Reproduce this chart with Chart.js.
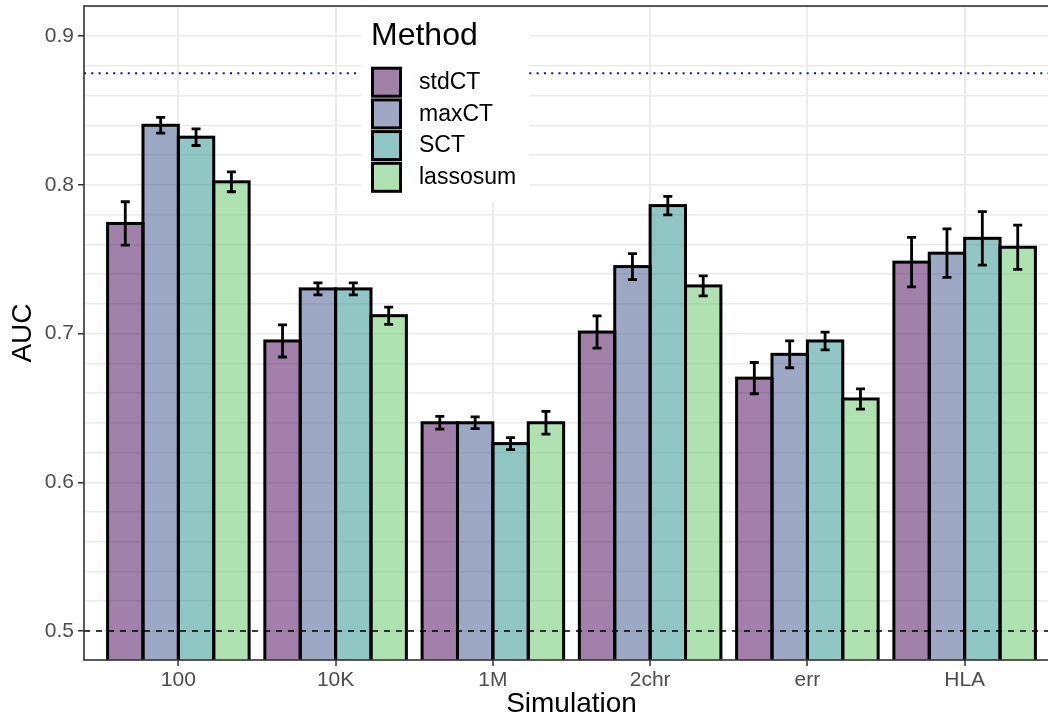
<!DOCTYPE html>
<html>
<head>
<meta charset="utf-8">
<title>AUC by simulation</title>
<script src="https://cdn.jsdelivr.net/npm/chart.js@4.4.1/dist/chart.umd.min.js"></script>
<style>
  html, body { margin: 0; padding: 0; background: #fff; overflow: hidden; }
  canvas { display: block; }
</style>
</head>
<body>
<canvas id="aucChart" width="1060" height="721"></canvas>
<script>
const simulations = ['100', '10K', '1M', '2chr', 'err', 'HLA'];
const methods = ['stdCT', 'maxCT', 'SCT', 'lassosum'];

// mean AUC per simulation
const stdCT    = [0.774, 0.695, 0.640, 0.701, 0.670, 0.748];
const maxCT    = [0.840, 0.730, 0.640, 0.745, 0.686, 0.754];
const SCT      = [0.832, 0.730, 0.626, 0.786, 0.695, 0.764];
const lassosum = [0.802, 0.712, 0.640, 0.732, 0.656, 0.758];

// half-width of the error bars
const stdCTErr    = [0.0146, 0.0108, 0.0043, 0.0108, 0.0105, 0.0166];
const maxCTErr    = [0.0053, 0.0040, 0.0040, 0.0087, 0.0090, 0.0163];
const SCTErr      = [0.0056, 0.0040, 0.0040, 0.0062, 0.0060, 0.0180];
const lassosumErr = [0.0067, 0.0058, 0.0077, 0.0067, 0.0068, 0.0149];

const yLabelTicks = [0.5, 0.6, 0.7, 0.8, 0.9];
const yGridTicks = [0.5, 0.52, 0.54, 0.56, 0.58, 0.6, 0.62, 0.64, 0.66, 0.68, 0.7,
  0.72, 0.74, 0.76, 0.78, 0.8, 0.82, 0.84, 0.86, 0.88, 0.9, 0.92];
const refAUC = 0.875;
const chanceAUC = 0.5;

const fills = ['rgba(68,1,84,0.5)', 'rgba(59,82,139,0.5)', 'rgba(33,144,140,0.5)', 'rgba(93,200,99,0.5)'];
const FONT = '"Liberation Sans", Arial, sans-serif';

const series = [stdCT, maxCT, SCT, lassosum];
const errs = [stdCTErr, maxCTErr, SCTErr, lassosumErr];
const dodge = 0.225; // bar width in category units (0.9 / 4)

const datasets = methods.map((m, k) => ({
  label: m,
  data: series[k].map((v, i) => ({ x: i + 1 + (k - 1.5) * dodge, y: v })),
  errors: errs[k],
  backgroundColor: fills[k],
  borderWidth: 0,
  inflateAmount: 0,
  grouped: false,
  categoryPercentage: 1,
  barPercentage: 1,
  clip: 0
}));

const errorBars = {
  id: 'errorBars',
  afterDatasetsDraw(chart) {
    const { ctx, chartArea, scales: { y } } = chart;
    const area = () => {
      ctx.beginPath();
      ctx.rect(chartArea.left, chartArea.top, chartArea.right - chartArea.left, chartArea.bottom - chartArea.top);
    };
    ctx.save();
    area();
    ctx.clip();

    // bar outlines, centred on the bar edges
    ctx.strokeStyle = '#000';
    ctx.lineWidth = 3;
    chart.data.datasets.forEach((ds, di) => {
      chart.getDatasetMeta(di).data.forEach(bar => {
        const p = bar.getProps(['x', 'y', 'base', 'width']);
        ctx.strokeRect(p.x - p.width / 2, p.y, p.width, p.base - p.y);
      });
    });

    ctx.lineWidth = 2.8;
    chart.data.datasets.forEach((ds, di) => {
      chart.getDatasetMeta(di).data.forEach((bar, i) => {
        const v = ds.data[i].y, e = ds.errors[i];
        const top = y.getPixelForValue(v + e), bot = y.getPixelForValue(v - e);
        const x = bar.x, w = 4.5;
        ctx.beginPath();
        ctx.moveTo(x, top); ctx.lineTo(x, bot);
        ctx.moveTo(x - w, top); ctx.lineTo(x + w, top);
        ctx.moveTo(x - w, bot); ctx.lineTo(x + w, bot);
        ctx.stroke();
      });
    });

    // reference lines
    let py = y.getPixelForValue(refAUC);
    ctx.strokeStyle = '#0000ff';
    ctx.lineWidth = 2;
    ctx.setLineDash([2, 5.3]);
    ctx.beginPath(); ctx.moveTo(chartArea.left, py); ctx.lineTo(chartArea.right, py); ctx.stroke();
    py = y.getPixelForValue(chanceAUC);
    ctx.strokeStyle = '#000';
    ctx.lineWidth = 1.5;
    ctx.setLineDash([6, 6]);
    ctx.beginPath(); ctx.moveTo(chartArea.left, py); ctx.lineTo(chartArea.right, py); ctx.stroke();
    ctx.restore();

    // panel border
    ctx.save();
    ctx.strokeStyle = '#333';
    ctx.lineWidth = 1.6;
    ctx.strokeRect(chartArea.left, chartArea.top, chartArea.right - chartArea.left, chartArea.bottom - chartArea.top);
    ctx.restore();
  }
};

const legendBox = {
  id: 'legendBox',
  afterDraw(chart) {
    const { ctx } = chart;
    ctx.save();
    ctx.fillStyle = '#fff';
    ctx.fillRect(361, 7.5, 168, 195);
    ctx.fillStyle = '#000';
    ctx.font = '32px ' + FONT;
    ctx.textBaseline = 'alphabetic';
    ctx.fillText('Method', 371, 45);
    ctx.font = '23px ' + FONT;
    ctx.textBaseline = 'middle';
    methods.forEach((m, k) => {
      const ky = 66.7 + k * 31.7;
      ctx.fillStyle = fills[k];
      ctx.fillRect(372.5, ky + 1.5, 28, 28);
      ctx.strokeStyle = '#000';
      ctx.lineWidth = 3;
      ctx.strokeRect(372.5, ky + 1.5, 28, 28);
      ctx.fillStyle = '#000';
      ctx.fillText(m, 419, ky + 16);
    });
    ctx.restore();
  }
};

new Chart(document.getElementById('aucChart'), {
  type: 'bar',
  data: { datasets },
  options: {
    responsive: false,
    animation: false,
    layout: { padding: { top: 6, right: 1, left: 0, bottom: 0 } },
    plugins: { legend: { display: false }, tooltip: { enabled: false } },
    scales: {
      x: {
        type: 'linear',
        offset: false,
        min: 0.4,
        max: 6.6,
        afterBuildTicks: scale => { scale.ticks = simulations.map((s, i) => ({ value: i + 1 })); },
        afterFit: scale => { scale.height = 61; scale.paddingLeft = 0; scale.paddingRight = 0; },
        ticks: {
          autoSkip: false,
          maxRotation: 0,
          padding: 2,
          color: '#4d4d4d',
          font: { family: FONT, size: 21 },
          callback: v => simulations[Math.round(v) - 1]
        },
        grid: { offset: false, color: '#ebebeb', lineWidth: 2, tickColor: '#333', tickLength: 6, tickWidth: 1.5 },
        border: { display: false },
        title: {
          display: true,
          text: 'Simulation',
          color: '#000',
          font: { family: FONT, size: 28 },
          padding: { top: 0, bottom: 0 }
        }
      },
      y: {
        type: 'linear',
        min: 0.4805,
        max: 0.9202,
        afterBuildTicks: scale => { scale.ticks = yGridTicks.map(v => ({ value: v })); },
        afterFit: scale => { scale.width = 84; scale.paddingTop = 0; scale.paddingBottom = 0; },
        ticks: {
          autoSkip: false,
          padding: 4,
          color: '#4d4d4d',
          font: { family: FONT, size: 21 },
          callback: v => yLabelTicks.some(t => Math.abs(t - v) < 1e-6) ? v.toFixed(1) : ''
        },
        grid: {
          color: '#ebebeb',
          lineWidth: 1.5,
          tickLength: 6,
          tickWidth: 1.5,
          tickColor: c => (c.tick && yLabelTicks.some(t => Math.abs(t - c.tick.value) < 1e-6)) ? '#333' : 'rgba(0,0,0,0)'
        },
        border: { display: false },
        title: {
          display: true,
          text: 'AUC',
          color: '#000',
          font: { family: FONT, size: 28 },
          padding: { top: 6, bottom: 0 }
        }
      }
    }
  },
  plugins: [errorBars, legendBox]
});
</script>
</body>
</html>
